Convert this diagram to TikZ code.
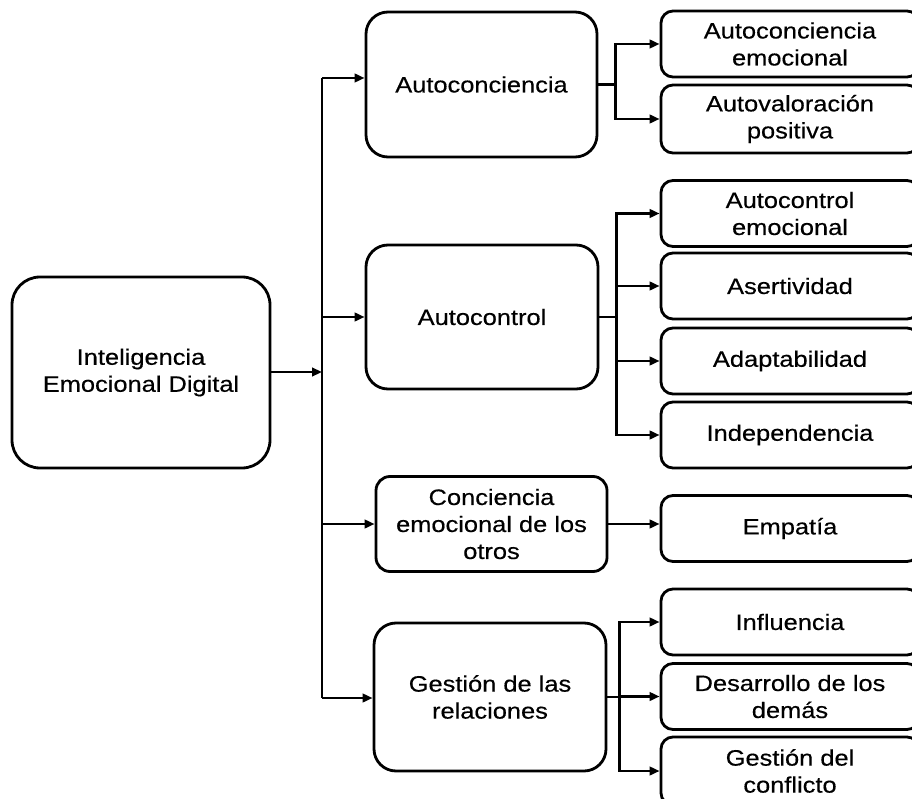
\documentclass[tikz,border=0pt]{standalone}
\usepackage{fontspec}
\setmainfont{Liberation Sans}[FakeStretch=1.14,FakeBold=0.4]
\usetikzlibrary{arrows.meta}
\begin{document}
\begin{tikzpicture}[x=1pt,y=1pt,
  box/.style={draw, line width=2.8pt, rectangle, align=center, inner sep=0pt,
    font=\fontsize{22.3}{27}\selectfont},
  bigbox/.style={box, rounded corners=28pt},
  midbox/.style={box, rounded corners=22pt},
  smallbox/.style={box, rounded corners=14pt},
  leafbox/.style={box, rounded corners=12pt, minimum width=258pt, minimum height=66pt},
  conn/.style={line width=2.7pt},
  arr/.style={conn, -{Triangle[length=10pt,width=8.5pt]}}]
\useasboundingbox[fill=white] (0,0) rectangle (912,-799);
% root
\node[bigbox, minimum width=258pt, minimum height=191pt] (root) at (141,-372.5) {Inteligencia\\Emocional Digital};
% level 1
\node[midbox, minimum width=231pt, minimum height=145pt] (a1) at (481.5,-84.5) {Autoconciencia};
\node[midbox, minimum width=232pt, minimum height=144pt] (a2) at (482,-317) {Autocontrol};
\node[smallbox, minimum width=231pt, minimum height=95pt] (a3) at (491.5,-524) {Conciencia\\emocional de los\\otros};
\node[midbox, minimum width=232pt, minimum height=148pt] (a4) at (490,-697) {Gestión de las\\relaciones};
% level 2
\node[leafbox] (b1) at (790,-44) {Autoconciencia\\emocional};
\node[leafbox, minimum height=68pt] (b2) at (790,-119) {Autovaloración\\positiva};
\node[leafbox] (c1) at (790,-213.5) {Autocontrol\\emocional};
\node[leafbox] (c2) at (790,-286) {Asertividad};
\node[leafbox] (c3) at (790,-361) {Adaptabilidad};
\node[leafbox] (c4) at (790,-435) {Independencia};
\node[leafbox] (d1) at (790,-528.5) {Empatía};
\node[leafbox] (e1) at (790,-622) {Influencia};
\node[leafbox] (e2) at (790,-696.5) {Desarrollo de los\\demás};
\node[leafbox, minimum height=68pt] (e3) at (790,-771) {Gestión del\\conflicto};
% trunk
\coordinate (t0) at (322,-372);
\coordinate (t1) at (322,-78);
\coordinate (t4) at (322,-698);
\draw[arr] (root.east |- t0) -- (t0);
\draw[conn] (t1) -- (t4);
\draw[arr] (t1) -- (t1 -| a1.west);
\draw[arr] (t1 |- a2.west) -- (a2.west);
\draw[arr] (t1 |- a3.west) -- (a3.west);
\draw[arr] (t4) -- (t4 -| a4.west);
% branches
\draw[conn] (a1.east) -- ++(17,0);
\draw[arr] ([xshift=17pt]a1.east) |- (b1.west);
\draw[arr] ([xshift=17pt]a1.east) |- (b2.west);
\draw[conn] (a2.east) -- ++(17,0);
\draw[arr] ([xshift=17pt]a2.east) |- (c1.west);
\draw[arr] ([xshift=17pt]a2.east) |- (c2.west);
\draw[arr] ([xshift=17pt]a2.east) |- (c3.west);
\draw[arr] ([xshift=17pt]a2.east) |- (c4.west);
\draw[arr] (a3.east) -- (a3.east -| d1.west);
\draw[conn] (a4.east) -- ++(12,0);
\draw[arr] ([xshift=12pt]a4.east) |- (e1.west);
\draw[arr] ([xshift=12pt]a4.east) |- (e2.west);
\draw[arr] ([xshift=12pt]a4.east) |- (e3.west);
\end{tikzpicture}
\end{document}
